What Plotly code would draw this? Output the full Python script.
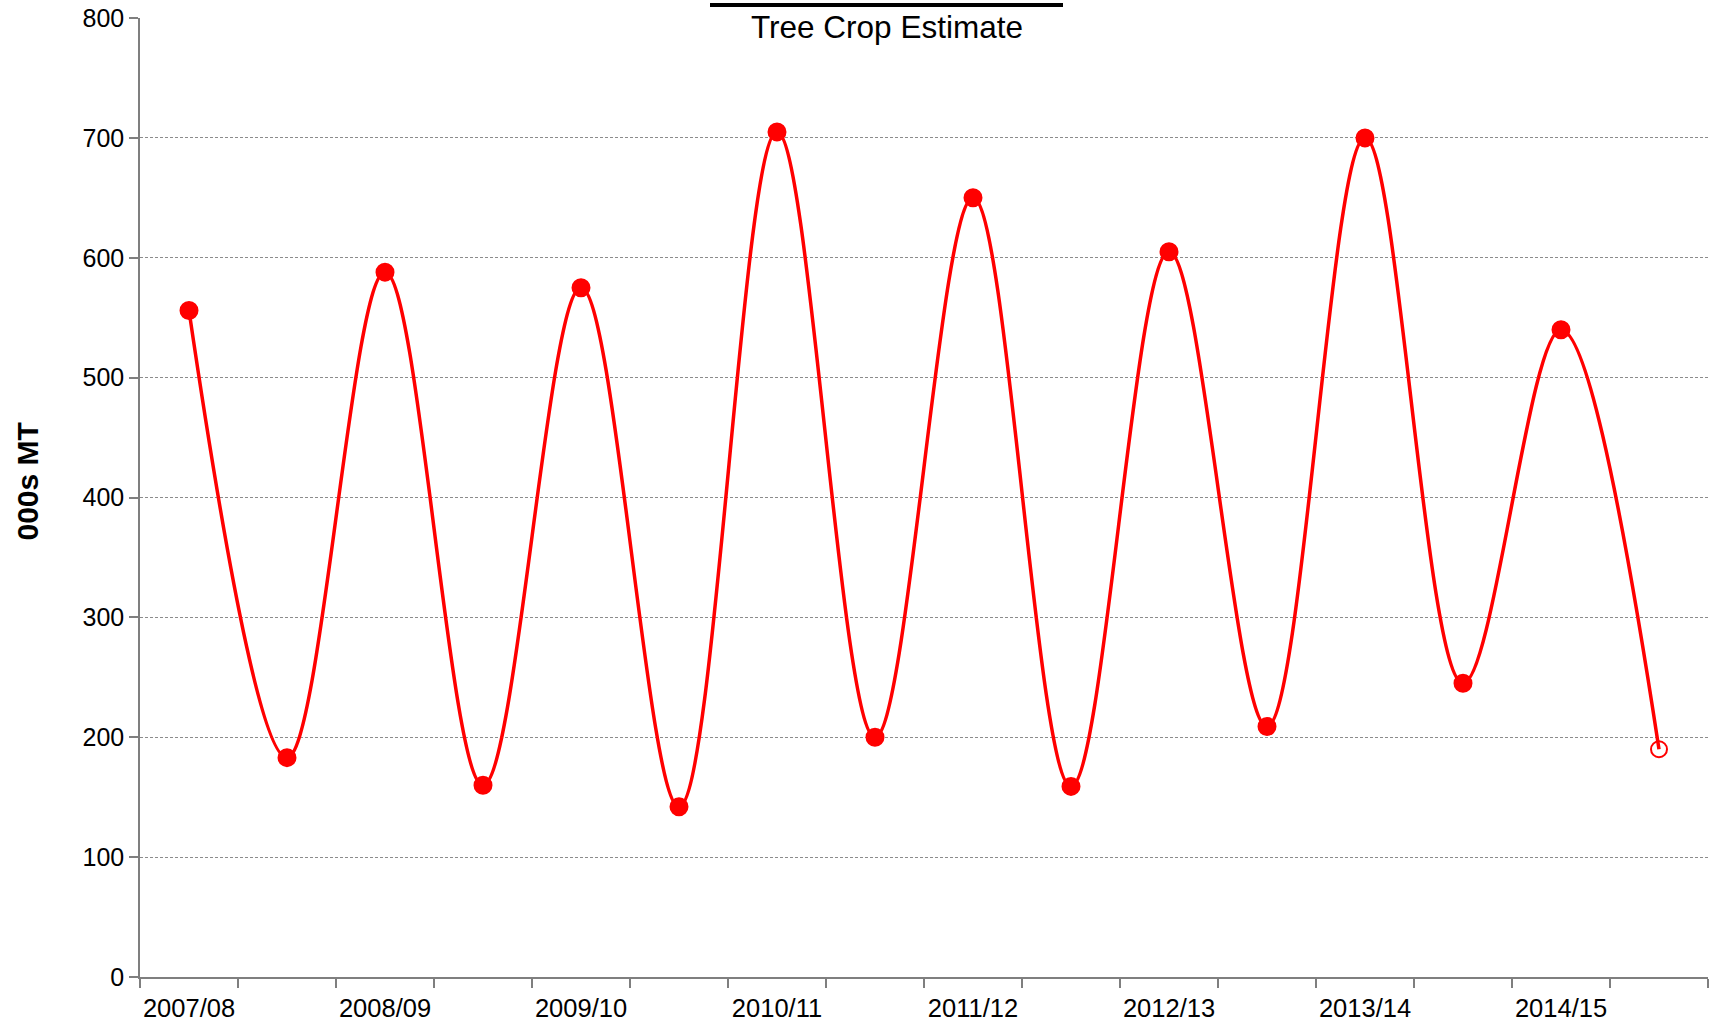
import plotly.graph_objects as go

# Data
seasons = ["2007/08", "2008/09", "2009/10", "2010/11", "2011/12", "2012/13", "2013/14", "2014/15"]
values = [556, 183, 588, 160, 575, 142, 705, 200, 650, 159, 605, 209, 700, 245, 540, 190]
estimate_flags = [False] * 15 + [True]

x = list(range(len(values)))
symbols = ["circle-open" if f else "circle" for f in estimate_flags]
sizes = [16 if f else 17 for f in estimate_flags]

W, H = 1714, 1022
# plot area in page pixels: left 140, right 1708, top 18, bottom 977
ml, mt = 140, 18
mr = W - 1708
mb = H - 977
pw = W - ml - mr
ph = H - mt - mb


def px(xp):
    return (xp - ml) / pw


def py(yp):
    return 1 - (yp - mt) / ph


fig = go.Figure()
fig.add_trace(go.Scatter(
    x=x, y=values, mode="lines+markers",
    line=dict(color="#ff0000", width=3.5, shape="spline", smoothing=1.0),
    marker=dict(symbol=symbols, size=sizes, color="#ff0000", opacity=1,
                line=dict(color="#ff0000", width=2)),
    showlegend=False,
))

font_family = "Liberation Sans, Arial, sans-serif"
fig.update_layout(
    width=W, height=H,
    margin=dict(l=ml, r=mr, t=mt, b=mb, autoexpand=False),
    paper_bgcolor="white", plot_bgcolor="white",
    font=dict(family=font_family, color="black", size=25),
    xaxis=dict(
        range=[-0.5, len(values) - 0.5],
        tickmode="array",
        tickvals=[2 * i for i in range(len(seasons))],
        ticktext=seasons,
        ticks="", showgrid=False, zeroline=False,
        showline=True, linecolor="#7f7f7f", linewidth=1.5,
        ticklabelstandoff=8, automargin=False,
        minor=dict(tick0=-0.5, dtick=1, ticks="outside", ticklen=9,
                   tickcolor="#7f7f7f", tickwidth=1.5, showgrid=False),
        tickfont=dict(size=25.5),
    ),
    yaxis=dict(
        range=[0, 800], dtick=100, tick0=0,
        ticks="outside", ticklen=9, tickcolor="#7f7f7f", tickwidth=1.5,
        showline=True, linecolor="#7f7f7f", linewidth=1.5,
        showgrid=True, gridcolor="#8c8c8c", gridwidth=1, griddash="3px,2px",
        zeroline=False, automargin=False,
        tickfont=dict(size=25),
    ),
)

fig.add_annotation(
    text="<b>000s MT</b>", textangle=-90, xref="paper", yref="paper",
    x=px(27.5), y=py(481), xanchor="center", yanchor="middle",
    showarrow=False, font=dict(size=30),
)
fig.add_annotation(
    text="Tree Crop Estimate", xref="paper", yref="paper",
    x=px(887), y=py(27), xanchor="center", yanchor="middle",
    showarrow=False, font=dict(size=31.5),
)
fig.add_shape(
    type="line", xref="paper", yref="paper",
    x0=px(710), x1=px(1063), y0=py(5), y1=py(5),
    line=dict(color="black", width=4),
)

fig.write_html("out.html", config={"displayModeBar": False},
               post_script="document.body.style.margin='0';")
